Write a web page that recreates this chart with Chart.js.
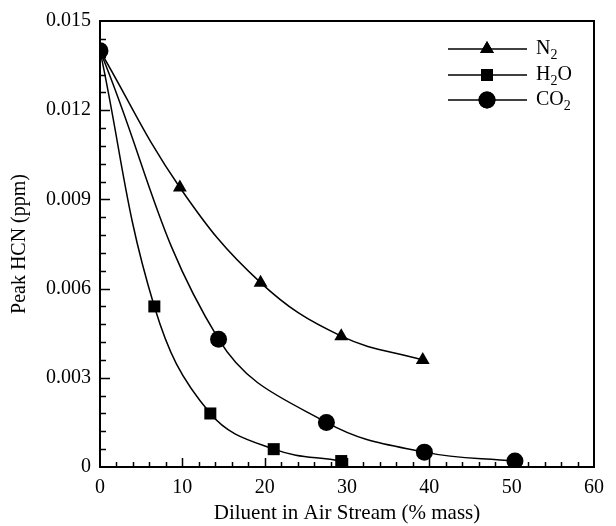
<!DOCTYPE html>
<html lang="en">
<head>
    <meta charset="UTF-8">
    <title>Peak HCN vs diluent</title>
    <style>
        body {
            margin: 0;
            background-color: #fff;
        }
        .chart-box {
            position: relative;
            width: 616px;
            height: 526px;
        }
    </style>
    <script src="https://cdn.jsdelivr.net/npm/chart.js"></script>
</head>
<body>
    <div class="chart-box">
        <canvas id="hcnChart"></canvas>
    </div>
    <script>
        // data
        const n2X = [0, 9.7, 19.5, 29.3, 39.2];
        const n2Y = [0.014, 0.0094, 0.0062, 0.0044, 0.0036];
        const h2oX = [0, 6.6, 13.4, 21.1, 29.3];
        const h2oY = [0.014, 0.0054, 0.0018, 0.0006, 0.0002];
        const co2X = [0, 14.4, 27.5, 39.4, 50.4];
        const co2Y = [0.014, 0.0043, 0.0015, 0.0005, 0.0002];

        const xTicks = [0, 10, 20, 30, 40, 50, 60];
        const yTicks = [0, 0.003, 0.006, 0.009, 0.012, 0.015];

        // legend entries: [main, subscript, tail]
        const legendItems = [
            { parts: ['N', '2', ''], style: 'triangle', radius: 8 },
            { parts: ['H', '2', 'O'], style: 'rect', radius: 8.5 },
            { parts: ['CO', '2', ''], style: 'circle', radius: 8.5 }
        ];

        const FONT = "'Liberation Serif', 'DejaVu Serif', serif";

        function toPoints(xs, ys) {
            return xs.map((x, i) => ({ x: x, y: ys[i] }));
        }

        function series(label, xs, ys, style, radius) {
            return {
                label: label,
                data: toPoints(xs, ys),
                borderColor: '#000',
                backgroundColor: '#000',
                borderWidth: 1.5,
                pointStyle: style,
                pointRadius: radius,
                pointBorderWidth: 0,
                tension: 0.4,
                fill: false
            };
        }

        // inward ticks, frame and legend drawn by hand
        const decorations = {
            id: 'decorations',
            afterDraw(chart) {
                const ctx = chart.ctx;
                const area = chart.chartArea;
                const xs = chart.scales.x;
                const ys = chart.scales.y;
                ctx.save();
                ctx.strokeStyle = '#000';
                ctx.lineWidth = 1.5;

                // x ticks every 2, long at every 10
                ctx.beginPath();
                for (let v = 2; v < 60; v += 2) {
                    const px = Math.round(xs.getPixelForValue(v)) + 0.5;
                    const len = v % 10 === 0 ? 9 : 5;
                    ctx.moveTo(px, area.bottom);
                    ctx.lineTo(px, area.bottom - len);
                }
                // y ticks every 0.0006, long at every 0.003
                for (let i = 1; i < 25; i++) {
                    const py = Math.round(ys.getPixelForValue(i * 0.0006)) + 0.5;
                    const len = i % 5 === 0 ? 10 : 6;
                    ctx.moveTo(area.left, py);
                    ctx.lineTo(area.left + len, py);
                }
                ctx.stroke();

                // frame
                ctx.lineWidth = 2;
                ctx.strokeRect(area.left, area.top, area.right - area.left, area.bottom - area.top);

                // legend
                const lineX0 = 448, lineX1 = 527, markX = 487, textX = 536;
                const rowY = [49, 75, 100];
                legendItems.forEach((item, i) => {
                    const y = rowY[i];
                    ctx.lineWidth = 1.5;
                    ctx.beginPath();
                    ctx.moveTo(lineX0, y);
                    ctx.lineTo(lineX1, y);
                    ctx.stroke();
                    ctx.fillStyle = '#000';
                    Chart.helpers.drawPoint(ctx, {
                        pointStyle: item.style,
                        radius: item.radius,
                        borderWidth: 0
                    }, markX, y);
                    ctx.fill();

                    ctx.textBaseline = 'middle';
                    ctx.textAlign = 'left';
                    ctx.font = '20px ' + FONT;
                    let tx = textX;
                    ctx.fillText(item.parts[0], tx, y);
                    tx += ctx.measureText(item.parts[0]).width;
                    ctx.font = '14px ' + FONT;
                    ctx.fillText(item.parts[1], tx, y + 6);
                    tx += ctx.measureText(item.parts[1]).width;
                    ctx.font = '20px ' + FONT;
                    ctx.fillText(item.parts[2], tx, y);
                });
                ctx.restore();
            }
        };

        Chart.defaults.font.family = FONT;
        Chart.defaults.color = '#000';

        new Chart(document.getElementById('hcnChart'), {
            type: 'line',
            data: {
                datasets: [
                    series('N2', n2X, n2Y, 'triangle', 8),
                    series('H2O', h2oX, h2oY, 'rect', 8.5),
                    series('CO2', co2X, co2Y, 'circle', 8.5)
                ]
            },
            plugins: [decorations],
            options: {
                responsive: true,
                maintainAspectRatio: false,
                animation: false,
                layout: {
                    padding: { left: 0, right: 22, top: 17, bottom: 0 }
                },
                plugins: {
                    legend: { display: false },
                    tooltip: { enabled: false }
                },
                scales: {
                    x: {
                        type: 'linear',
                        min: 0,
                        max: 60,
                        afterBuildTicks: (scale) => {
                            scale.ticks = xTicks.map(v => ({ value: v }));
                        },
                        afterFit: (scale) => { scale.height = 59; },
                        grid: { display: false, drawTicks: false },
                        border: { display: false },
                        ticks: {
                            padding: 9,
                            maxRotation: 0,
                            font: { size: 20 },
                            color: '#000'
                        },
                        title: {
                            display: true,
                            text: 'Diluent in Air Stream (% mass)',
                            font: { size: 21 },
                            color: '#000',
                            padding: { top: 2, bottom: 0 }
                        }
                    },
                    y: {
                        type: 'linear',
                        min: 0,
                        max: 0.015,
                        afterBuildTicks: (scale) => {
                            scale.ticks = yTicks.map(v => ({ value: v }));
                        },
                        afterFit: (scale) => { scale.width = 100; },
                        grid: { display: false, drawTicks: false },
                        border: { display: false },
                        ticks: {
                            padding: 9,
                            font: { size: 20 },
                            color: '#000',
                            callback: (v) => v === 0 ? '0' : v.toFixed(3)
                        },
                        title: {
                            display: true,
                            text: 'Peak HCN (ppm)',
                            font: { size: 20 },
                            color: '#000',
                            padding: { top: 8, bottom: 0 }
                        }
                    }
                }
            }
        });
    </script>
</body>
</html>
